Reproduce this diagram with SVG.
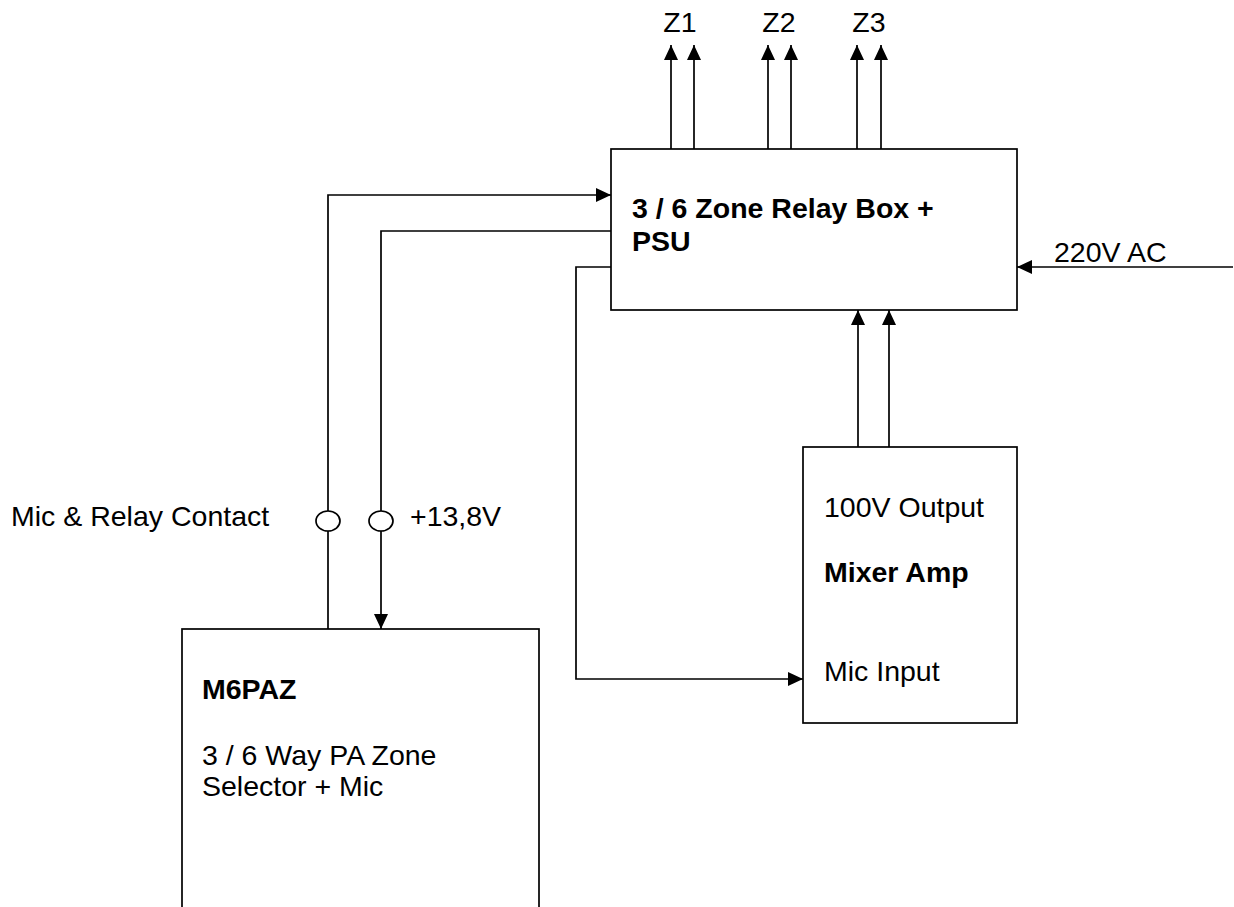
<svg xmlns="http://www.w3.org/2000/svg" width="1234" height="907" viewBox="0 0 1234 907">
<style>
.box{fill:#fff;stroke:#000;stroke-width:1.7}
.ln{fill:none;stroke:#000;stroke-width:1.7}
.t{font-family:"Liberation Sans",Arial,sans-serif;font-size:28.5px;fill:#000}
.b{font-weight:bold;font-size:28.5px}
.ring{fill:#fff;stroke:#000;stroke-width:1.7}
</style>
<defs>
<marker id="ah" viewBox="0 0 15 14" refX="15" refY="7" markerWidth="15" markerHeight="14" markerUnits="userSpaceOnUse" orient="auto">
<path d="M0,0 L15,7 L0,14 z" fill="#000"/>
</marker>
</defs>
<rect width="1234" height="907" fill="#fff"/>
<g id="relay-box">
<rect class="box" x="611" y="149" width="406" height="161"/>
<text class="t b" x="632" y="218">3 / 6 Zone Relay Box +</text>
<text class="t b" x="632" y="251">PSU</text>
</g>
<g id="mixer-amp">
<rect class="box" x="803" y="447" width="214" height="276"/>
<text class="t" x="824" y="517">100V Output</text>
<text class="t b" x="824" y="582">Mixer Amp</text>
<text class="t" x="824" y="681">Mic Input</text>
</g>
<g id="m6paz">
<rect class="box" x="182" y="629" width="357" height="300"/>
<text class="t b" x="202" y="699">M6PAZ</text>
<text class="t" x="202" y="765">3 / 6 Way PA Zone</text>
<text class="t" x="202" y="796">Selector + Mic</text>
</g>
<g id="connectors">
<path class="ln" d="M671,149 V45" marker-end="url(#ah)"/>
<path class="ln" d="M694,149 V45" marker-end="url(#ah)"/>
<path class="ln" d="M768,149 V45" marker-end="url(#ah)"/>
<path class="ln" d="M791,149 V45" marker-end="url(#ah)"/>
<path class="ln" d="M857,149 V45" marker-end="url(#ah)"/>
<path class="ln" d="M881,149 V45" marker-end="url(#ah)"/>
<path class="ln" d="M328,629 V195 H611" marker-end="url(#ah)"/>
<path class="ln" d="M611,231 H381 V629" marker-end="url(#ah)"/>
<path class="ln" d="M611,267 H576 V679 H803" marker-end="url(#ah)"/>
<path class="ln" d="M858,447 V310" marker-end="url(#ah)"/>
<path class="ln" d="M889,447 V310" marker-end="url(#ah)"/>
<path class="ln" d="M1233,267 H1017" marker-end="url(#ah)"/>
<ellipse class="ring" cx="328" cy="521" rx="12" ry="10"/>
<ellipse class="ring" cx="381" cy="521" rx="12" ry="10"/>
<text class="t" x="680" y="32" text-anchor="middle">Z1</text>
<text class="t" x="779" y="32" text-anchor="middle">Z2</text>
<text class="t" x="869" y="32" text-anchor="middle">Z3</text>
<text class="t" x="1054" y="262">220V AC</text>
<text class="t" x="11" y="526">Mic &amp; Relay Contact</text>
<text class="t" x="410" y="526">+13,8V</text>
</g>
</svg>
